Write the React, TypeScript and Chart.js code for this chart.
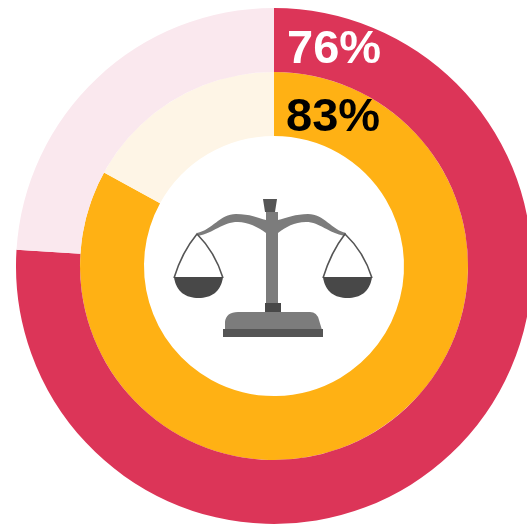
import React, { useEffect, useRef } from "react";
import { Chart, registerables } from "chart.js";

Chart.register(...registerables);

const categories = ["Yes", "No"];
const outerValues = [76, 24];
const innerValues = [83, 17];
const outerColors = ["#DC3558", "#FAE8EE"];
const innerColors = ["#FFB114", "#FEF5E6"];
const outerLabel = "76%";
const innerLabel = "83%";

const GREY = "#7C7C7C";
const DARK = "#484848";

function drawScale(c: CanvasRenderingContext2D) {
  c.save();
  // beam
  c.fillStyle = GREY;
  c.beginPath();
  c.moveTo(197, 233);
  c.bezierCurveTo(212, 230, 220, 214, 236, 214);
  c.bezierCurveTo(250, 214, 258, 218, 266, 220);
  c.lineTo(278, 220);
  c.bezierCurveTo(286, 218, 296, 214, 308, 214);
  c.bezierCurveTo(324, 214, 332, 230, 346, 233);
  c.lineTo(345, 236);
  c.bezierCurveTo(328, 233, 320, 222, 306, 222);
  c.bezierCurveTo(294, 222, 286, 227, 278, 233);
  c.lineTo(266, 233);
  c.bezierCurveTo(258, 227, 248, 222, 238, 222);
  c.bezierCurveTo(222, 222, 214, 233, 198, 236);
  c.closePath();
  c.fill();
  // column
  c.fillRect(266, 212, 12, 92);
  // top cap
  c.fillStyle = "#555555";
  c.beginPath();
  c.moveTo(263, 199);
  c.lineTo(277, 199);
  c.lineTo(275, 212);
  c.lineTo(265, 212);
  c.closePath();
  c.fill();
  // collar
  c.fillStyle = DARK;
  c.fillRect(265, 303, 16, 9);
  // base
  c.fillStyle = GREY;
  c.beginPath();
  c.moveTo(225, 330);
  c.lineTo(225, 322);
  c.quadraticCurveTo(226, 312, 238, 312);
  c.lineTo(310, 312);
  c.quadraticCurveTo(317, 312, 319, 320);
  c.lineTo(322, 330);
  c.closePath();
  c.fill();
  c.fillStyle = "#555555";
  c.fillRect(223, 329, 100, 8);
  // pans
  for (const [apex, left, right] of [
    [197, 174, 223],
    [345, 323, 372],
  ]) {
    c.strokeStyle = "#555555";
    c.lineWidth = 1.6;
    c.beginPath();
    c.moveTo(left, 278);
    c.quadraticCurveTo(left + 8, 252, apex, 234);
    c.quadraticCurveTo(right - 8, 252, right, 278);
    c.stroke();
    c.fillStyle = DARK;
    c.beginPath();
    c.moveTo(left, 277);
    c.lineTo(right, 277);
    c.bezierCurveTo(right - 2, 292, right - 12, 298, (left + right) / 2, 298);
    c.bezierCurveTo(left + 12, 298, left + 2, 292, left, 277);
    c.closePath();
    c.fill();
  }
  c.restore();
}

const overlay = {
  id: "overlay",
  afterDraw(chart: Chart) {
    const c = chart.ctx;
    drawScale(c);
    c.save();
    c.font = "bold 47px 'Liberation Sans'";
    c.textAlign = "left";
    c.textBaseline = "alphabetic";
    c.fillStyle = "#FFFFFF";
    c.fillText(outerLabel, 287, 63);
    c.fillStyle = "#000000";
    c.fillText(innerLabel, 286, 131);
    c.restore();
  },
};

export default function App() {
  const ref = useRef<HTMLCanvasElement>(null);
  useEffect(() => {
    const chart = new Chart(ref.current!, {
      type: "doughnut",
      data: {
        labels: categories,
        datasets: [
          { data: outerValues, backgroundColor: outerColors, borderWidth: 0 },
          { data: innerValues, backgroundColor: innerColors, borderWidth: 0 },
        ],
      },
      options: {
        responsive: false,
        animation: false,
        cutout: "50.4%",
        layout: { padding: 8 },
        plugins: { legend: { display: false }, tooltip: { enabled: false } },
      },
      plugins: [overlay],
    });
    return () => chart.destroy();
  }, []);
  return (
    <div
      style={{
        position: "fixed",
        left: 0,
        top: 0,
        width: 527,
        height: 526,
        overflow: "hidden",
        background: "#fff",
      }}
    >
      <canvas
        ref={ref}
        width={548}
        height={532}
        style={{ display: "block", width: 548, height: 532, filter: "blur(0.6px)" }}
      />
    </div>
  );
}
